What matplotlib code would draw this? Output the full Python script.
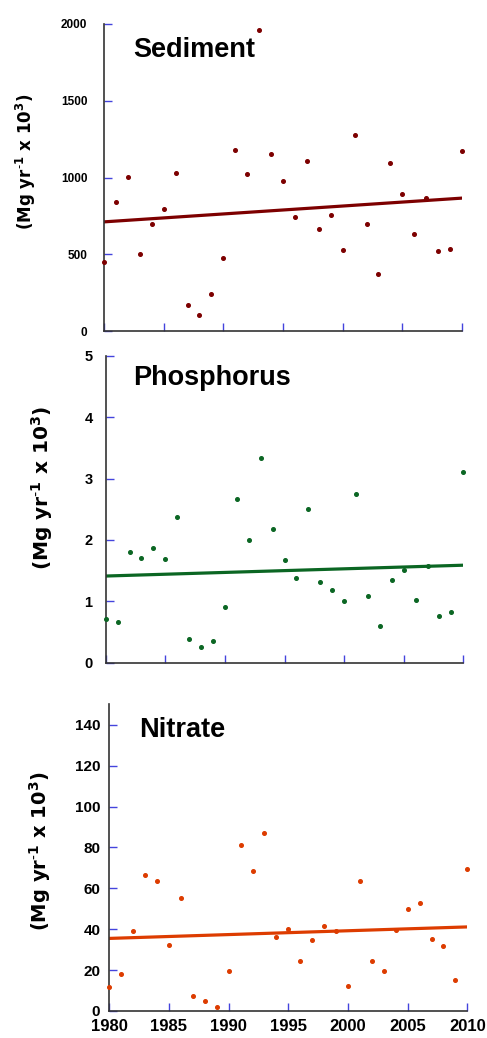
import numpy as np
import matplotlib
matplotlib.use("Agg")
import matplotlib.pyplot as plt

plt.rcParams['font.family'] = ['Liberation Sans', 'DejaVu Sans']
plt.rcParams['mathtext.default'] = 'regular'

years = np.arange(1980, 2011)

# annual loads, Mg/yr x 10^3
sediment = [449, 842, 1004, 499, 696, 796, 1032, 171, 102, 241, 473, 1176, 1024, 1961, 1152,
            976, 740, 1106, 666, 757, 525, 1275, 694, 373, 1095, 891, 629, 868, 518, 536, 1171]
phosphorus = [0.71, 0.66, 1.80, 1.71, 1.87, 1.69, 2.37, 0.38, 0.25, 0.36, 0.91, 2.66, 2.00, 3.33, 2.17,
              1.67, 1.38, 2.51, 1.31, 1.19, 1.00, 2.74, 1.09, 0.60, 1.34, 1.51, 1.02, 1.58, 0.76, 0.82, 3.10]
nitrate = [11.9, 18.2, 39.3, 66.3, 63.8, 32.4, 55.2, 7.3, 4.9, 2.1, 19.7, 81.3, 68.7, 87.1, 36.2,
           39.9, 24.6, 34.5, 41.5, 39.0, 12.1, 63.5, 24.6, 19.5, 39.6, 50.0, 52.6, 35.3, 31.8, 15.3, 69.5]

W, H = 487, 1038
fig = plt.figure(figsize=(W / 100, H / 100), dpi=100)

def px_axes(l, t, r, b):
    return fig.add_axes([l / W, 1 - b / H, (r - l) / W, (b - t) / H])

panels = [
    # name, data, colour, axes box (px), ylim, yticks, tick font size, tick pad, ylabel (x, y, size), title baseline
    ("Sediment", sediment, "#7d0000", (104, 24, 462, 331), 2000, np.arange(0, 2001, 500), 8.5, 12, (26, 162, 12), (133, 57)),
    ("Phosphorus", phosphorus, "#0b6623", (105.7, 355.7, 463.3, 662.7), 5, np.arange(0, 6, 1), 10.5, 9.5, (42, 488, 14.5), (133, 385)),
    ("Nitrate", nitrate, "#dd3c00", (109.3, 704.3, 467.3, 1011), 150, np.arange(0, 141, 20), 11, 6.5, (40, 851, 14), (139, 737)),
]

for i, (name, vals, col, box, ytop, yt, tfs, tpad, ylab, tpos) in enumerate(panels):
    ax = px_axes(*box)
    vals = np.array(vals)
    ax.plot(years, vals, 'o', color=col, ms=2.6, mec=col, zorder=3, clip_on=False)
    # linear trend
    k, b0 = np.polyfit(years, vals, 1)
    ax.plot([1980, 2010], [k * 1980 + b0, k * 2010 + b0], color=col, lw=2.3, zorder=2)

    ax.set_xlim(1980, 2010)
    ax.set_ylim(0, ytop)
    ax.set_yticks(yt)
    ax.set_xticks(np.arange(1980, 2011, 5))
    for s in ['top', 'right']:
        ax.spines[s].set_visible(False)
    for s in ['left', 'bottom']:
        ax.spines[s].set_color('#333333')
        ax.spines[s].set_linewidth(1.2)
    ax.tick_params(direction='in', length=6, width=1, color='#4444dd')
    ax.tick_params(axis='y', labelsize=tfs, pad=tpad)
    for lab in ax.get_yticklabels():
        lab.set_weight('bold')
    if i < 2:
        ax.set_xticklabels([])
    else:
        ax.tick_params(axis='x', labelsize=12, pad=6)
        for lab in ax.get_xticklabels():
            lab.set_weight('bold')

    fig.text(ylab[0] / W, 1 - ylab[1] / H, r"(Mg yr$^{\text{-}1}$ x 10$^{3}$)", rotation=90,
             ha='center', va='center', fontsize=ylab[2], fontweight='bold',
             family=['DejaVu Sans'])
    fig.text(tpos[0] / W, 1 - tpos[1] / H, name, ha='left', va='baseline',
             fontsize=19.5, fontweight='bold')

fig.savefig("out.png", dpi=100)
